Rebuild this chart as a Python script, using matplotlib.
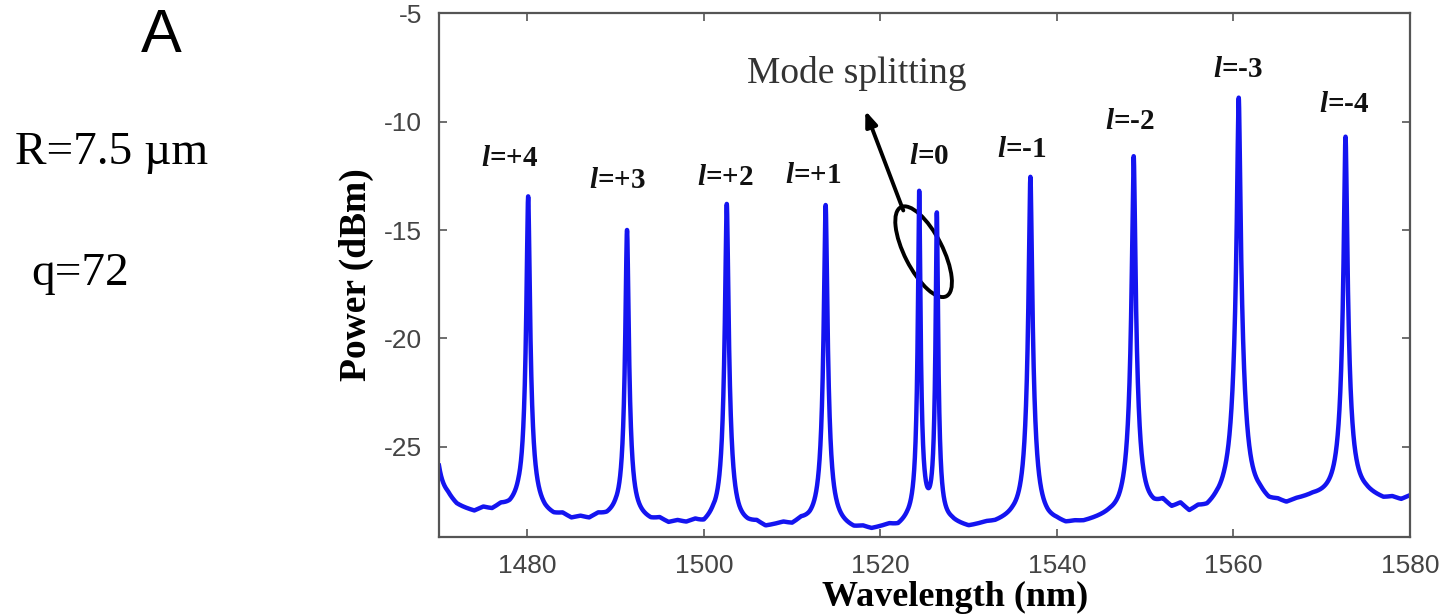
import numpy as np
import matplotlib
matplotlib.use("Agg")
import matplotlib.pyplot as plt
from matplotlib.patches import Ellipse
from matplotlib.transforms import Affine2D, ScaledTranslation

# --- resonance data (nm, dBm) ---
mode_labels = ["+4", "+3", "+2", "+1", "0", "-1", "-2", "-3", "-4"]
peak_centers = [1468.9, 1480.1, 1491.3, 1502.6, 1513.8, 1524.4, 1526.4,
                1537.0, 1548.7, 1560.6, 1572.7]
peak_levels = [-12.0, -13.45, -15.0, -13.8, -13.85, -13.2, -14.2,
               -12.55, -11.6, -8.9, -10.7]
peak_fwhm = [0.26, 0.26, 0.26, 0.26, 0.26, 0.17, 0.17,
             0.26, 0.26, 0.26, 0.26]

# background level, one reading per nm from 1470 to 1580
background_nm = list(range(1470, 1581))
background_dbm = [
    -27.6, -27.6, -27.9, -28.0, -28.1, -27.9, -28.0, -27.8, -27.9, -27.8,  # 1470-1479
    -28.0, -28.0, -28.2, -28.3, -28.2, -28.4, -28.3, -28.4, -28.2, -28.3,  # 1480-1489
    -28.2, -28.3, -28.3, -28.4, -28.5, -28.4, -28.6, -28.5, -28.6, -28.5,  # 1490-1499
    -28.7, -28.5, -28.6, -28.6, -28.7, -28.7, -28.6, -28.8, -28.7, -28.6,  # 1500-1509
    -28.7, -28.5, -28.6, -28.6, -28.7, -28.7, -28.8, -28.9, -28.8, -28.9,  # 1510-1519
    -28.8, -28.7, -28.8, -28.6, -28.5, -28.4, -28.5, -28.6, -28.6, -28.7,  # 1520-1529
    -28.8, -28.7, -28.6, -28.6, -28.5, -28.4, -28.4, -28.4, -28.5, -28.6,  # 1530-1539
    -28.6, -28.7, -28.6, -28.6, -28.5, -28.4, -28.3, -28.3, -28.2, -28.2,  # 1540-1549
    -28.1, -28.0, -27.7, -28.0, -27.8, -28.2, -28.0, -28.1, -27.9, -27.8,  # 1550-1559
    -27.8, -27.7, -27.7, -27.6, -27.8, -27.7, -27.8, -27.6, -27.5, -27.4,  # 1560-1569
    -27.4, -27.4, -27.4, -27.3, -27.3, -27.3, -27.4, -27.5, -27.4, -27.5,  # 1570-1579
    -27.3,                                                                 # 1580
]

# label anchor positions for each azimuthal order
label_x = [1478.0, 1490.2, 1502.4, 1512.4, 1525.5, 1536.0, 1548.3, 1560.5, 1572.6]
label_y = [-11.7, -12.7, -12.6, -12.5, -11.6, -11.3, -10.0, -7.6, -9.2]

xticks = [1480, 1500, 1520, 1540, 1560, 1580]
yticks = [-25, -20, -15, -10, -5]

# --- build the spectrum: Lorentzian resonances on the measured background ---
wl = np.linspace(1470, 1580, 22001)
bg_lin = 10 ** (np.interp(wl, background_nm, background_dbm) / 10)
power_lin = bg_lin.copy()
for c, lvl, fw in zip(peak_centers, peak_levels, peak_fwhm):
    bg_c = 10 ** (np.interp(c, background_nm, background_dbm) / 10)
    amp = 10 ** (lvl / 10) - bg_c
    power_lin += amp / (1 + (2 * (wl - c) / fw) ** 2)
power_dbm = 10 * np.log10(power_lin)

plt.rcParams["axes.unicode_minus"] = False
plt.rcParams["mathtext.fontset"] = "custom"
plt.rcParams["mathtext.it"] = "Liberation Serif:italic:bold"
plt.rcParams["mathtext.rm"] = "Liberation Serif:bold"

fig = plt.figure(figsize=(14.47, 6.15), dpi=100)
ax = fig.add_axes([0.3034, 0.1268, 0.671, 0.852])

ax.plot(wl, power_dbm, color="#1414f0", lw=3.2, solid_joinstyle="round")

ax.set_xlim(1470, 1580)
ax.set_ylim(-29.15, -5)
ax.set_xticks(xticks)
ax.set_yticks(yticks)
ax.tick_params(direction="in", length=6, width=1.2, color="#555555",
               top=True, right=True, labelsize=19, labelcolor="#444444",
               pad=12)
for lab in ax.get_xticklabels() + ax.get_yticklabels():
    lab.set_fontfamily("Liberation Sans")
for sp in ax.spines.values():
    sp.set_color("#555555")
    sp.set_linewidth(1.6)

ax.set_xlabel("Wavelength (nm)", fontfamily="Liberation Serif",
              fontweight="bold", fontsize=26)
ax.xaxis.set_label_coords((955 - 439) / 971, -0.083)
ax.set_ylabel("Power (dBm)", fontfamily="Liberation Serif",
              fontweight="bold", fontsize=27)
ax.yaxis.set_label_coords(-(439 - 374) / 971, 0.5)

for m, lx, ly in zip(mode_labels, label_x, label_y):
    ax.text(lx, ly, r"$\mathit{l}$=" + m, fontfamily="Liberation Serif",
            fontweight="bold", fontsize=21, ha="center", va="center",
            color="#111111")

ax.text(1517.3, -7.8, "Mode splitting", fontfamily="Liberation Serif",
        fontsize=27, ha="center", va="center", color="#333333")

# arrow from the split doublet up to the caption
ax.annotate("", xy=(1518.3, -9.5), xytext=(1522.6, -14.1),
            arrowprops=dict(arrowstyle="-|>,head_length=0.9,head_width=0.35",
                            color="black", lw=2.8, shrinkA=0, shrinkB=0))

# ellipse around the doublet, sized in pixels
ell_tr = Affine2D() + ScaledTranslation(1524.9, -16.0, ax.transData)
ax.add_patch(Ellipse((0, 0), width=100, height=38, angle=-63,
                     transform=ell_tr, fill=False, ec="black", lw=2.8))

fig.text(161 / 1447, 1 - 37 / 615, "A", fontfamily="Liberation Sans",
         fontsize=44, ha="center", va="center")
fig.text(15 / 1447, 1 - 164 / 615, "R=7.5 µm", fontfamily="Liberation Serif",
         fontsize=34, ha="left", va="baseline")
fig.text(31 / 1447, 1 - 285 / 615, "q=72", fontfamily="Liberation Serif",
         fontsize=34, ha="left", va="baseline")

fig.savefig("out.png", dpi=100, facecolor="white")
